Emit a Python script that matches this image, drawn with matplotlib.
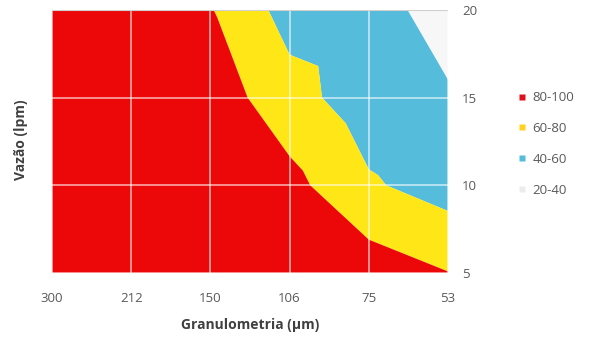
import numpy as np
import matplotlib
matplotlib.use("Agg")
import matplotlib.pyplot as plt
import matplotlib.tri as mtri
from matplotlib.lines import Line2D

plt.rcParams['font.family'] = ['Open Sans', 'DejaVu Sans']

# Granulometry classes (µm) and flow rates (lpm)
granulometria = ["300", "212", "150", "106", "75", "53"]
vazao = [5, 10, 15, 20]

# Efficiency (%) on the grid: one row per flow rate, one column per size class
z_vazao_5 = [100, 99, 98, 95, 90.8, 80.5]
z_vazao_10 = [100, 98, 95, 86.2, 62.4, 51.5]
z_vazao_15 = [99, 97, 91.1, 67.5, 49.2, 41.8]
z_vazao_20 = [97, 94, 81.2, 52.2, 46.7, 33]

faixas = [20, 40, 60, 80, 100]
faixa_labels = ["80-100", "60-80", "40-60", "20-40"]
faixa_cores = ["#F7F7F7", "#56BCDB", "#FFE616", "#EC0808"]
legenda_cores = ["#ECECEC", "#56BCDB", "#FFD21E", "#E0101A"]

Z = np.array([z_vazao_5, z_vazao_10, z_vazao_15, z_vazao_20], dtype=float)
nx, ny = len(granulometria), len(vazao)
X, Y = np.meshgrid(np.arange(nx), np.array(vazao, dtype=float))
zf = Z.ravel()

# Split each cell along the diagonal whose end points have the larger mean
triangles = []
for j in range(ny - 1):
    for i in range(nx - 1):
        bl = j * nx + i
        br = bl + 1
        tl = bl + nx
        tr = tl + 1
        if zf[tl] + zf[br] >= zf[bl] + zf[tr]:
            triangles += [[tl, bl, br], [tl, br, tr]]
        else:
            triangles += [[bl, br, tr], [bl, tr, tl]]
tri = mtri.Triangulation(X.ravel(), Y.ravel(), triangles)

fig = plt.figure(figsize=(5.92, 3.38), dpi=100)
ax = fig.add_axes([52 / 592, 65 / 338, 396 / 592, 263 / 338])
ax.tricontourf(tri, zf, levels=faixas, colors=faixa_cores, antialiased=True)

ax.set_xlim(0, nx - 1)
ax.set_ylim(vazao[0], vazao[-1])
ax.set_xticks(range(nx))
ax.set_xticklabels(granulometria)
ax.set_yticks(vazao)
ax.yaxis.tick_right()
ax.tick_params(length=0, labelsize=9.5, colors="#595959")
ax.tick_params(axis="x", pad=14)
ax.tick_params(axis="y", pad=10)

for i in range(nx):
    ax.axvline(i, color="white", lw=1.3, alpha=0.6, zorder=3)
for v in vazao:
    ax.axhline(v, color="white", lw=1.3, alpha=0.6, zorder=3)
ax.axhline(vazao[-1], color="#D0D0D0", lw=1.5, zorder=4)
for s in ax.spines.values():
    s.set_visible(False)

ax.set_xlabel("Granulometria (µm)", fontsize=10, fontweight="bold", color="#404040", labelpad=9)
fig.text(21 / 592, 1 - 140 / 338, "Vazão (lpm)", rotation=90, fontsize=10, fontweight="bold",
         color="#404040", ha="center", va="center")

handles = [Line2D([], [], marker="s", linestyle="none", markersize=5,
                  markerfacecolor=c, markeredgecolor="none") for c in legenda_cores[::-1]]
fig.legend(handles, faixa_labels, loc="center left", bbox_to_anchor=(505 / 592, 1 - 144 / 338),
           frameon=False, fontsize=9.5, labelcolor="#595959", handlelength=0.8,
           handletextpad=0.4, labelspacing=1.35)

fig.savefig("out.png", dpi=100)
